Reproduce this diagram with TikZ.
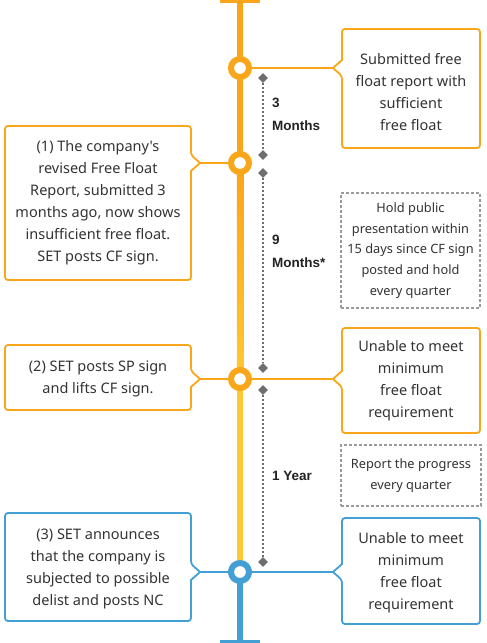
\documentclass[tikz,border=0pt]{standalone}
\usepackage{fontspec}
\newfontfamily\boxfont{Noto Sans}
\newfontfamily\lblfont{Liberation Sans}
\usetikzlibrary{shapes.geometric,shadows}
\definecolor{cOrange}{HTML}{F9A61A}
\definecolor{cYellow}{HTML}{FFC933}
\definecolor{cBlue}{HTML}{449FD5}
\definecolor{cDot}{HTML}{6D6E70}
\definecolor{cNote}{HTML}{9A9A9A}
\definecolor{cText}{HTML}{333333}
\definecolor{cLbl}{HTML}{222222}
% pointer box, pointer on the left: x1 y1 x2 y2 py colour tipname
\newcommand\PtrBoxOnLeft[7]{%
  \draw[#6, line width=1.8pt, fill=white, rounded corners=3pt]
    (#1,#5-8) -- (#1,#2) -- (#3,#2) -- (#3,#4) -- (#1,#4) -- (#1,#5+8)
    [sharp corners] -- (#1-9,#5) coordinate (#7) -- cycle;}
% pointer box, pointer on the right
\newcommand\PtrBoxOnRight[7]{%
  \draw[#6, line width=1.8pt, fill=white, rounded corners=3pt]
    (#3,#5+8) -- (#3,#4) -- (#1,#4) -- (#1,#2) -- (#3,#2) -- (#3,#5-8)
    [sharp corners] -- (#3+9,#5) coordinate (#7) -- cycle;}
\begin{document}
\begin{tikzpicture}[x=1pt,y=-1pt,
  boxtext/.style={align=center, text=cText, font=\boxfont\fontsize{14.5}{22}\selectfont, inner sep=0},
  notebox/.style={draw=cNote, dash pattern=on 3pt off 2pt, line width=1.3pt, align=center,
     text=cText, font=\boxfont\fontsize{12.8}{20.7}\selectfont, inner sep=0},
  lbl/.style={anchor=west, text=cLbl, font=\lblfont\bfseries\fontsize{13.5}{23}\selectfont, align=left, inner sep=0},
  dia/.style={diamond, fill=cDot, inner sep=0, minimum size=10pt},
  dotline/.style={cDot, line width=1.8pt, dash pattern=on 2pt off 2pt},
  conn/.style={line width=1.5pt},
  ring/.style={circle, line width=6pt, fill=white, minimum size=18pt, inner sep=0,
     drop shadow={opacity=0.18, shadow xshift=0pt, shadow yshift=-1.5pt}},
]
\useasboundingbox (0,0) rectangle (487,643);
\fill[white] (0,0) rectangle (487,643);

% main vertical line
\fill[cOrange] (236.75,0) rectangle (243.25,170);
\shade[top color=cOrange, bottom color=cYellow] (236.75,169.5) rectangle (243.25,390);
\fill[cYellow] (236.75,389.5) rectangle (243.25,572);
\fill[cBlue] (236.75,572) rectangle (243.25,643);
\fill[cOrange] (220,0) rectangle (260,2.5);
\fill[cBlue] (220,640) rectangle (260,643);

% boxes
\PtrBoxOnLeft{342}{29}{480}{148}{68}{cOrange}{t1}
\PtrBoxOnRight{5}{126}{191}{280}{163}{cOrange}{t2}
\PtrBoxOnRight{5}{345}{191}{410}{379}{cOrange}{t3}
\PtrBoxOnLeft{342}{328}{480}{433}{379}{cOrange}{t4}
\PtrBoxOnRight{5}{513}{191}{621}{572}{cBlue}{t5}
\PtrBoxOnLeft{342}{518}{480}{624}{572}{cBlue}{t6}

\node[boxtext] (b1) at (411,92) {Submitted free\\float report with\\sufficient\\free float};
\node[boxtext] (b2) at (98,202.5) {(1) The company's\\revised Free Float\\Report, submitted 3\\months ago, now shows\\insufficient free float.\\SET posts CF sign.};
\node[boxtext] (b3) at (98,379) {(2) SET posts SP sign\\and lifts CF sign.};
\node[boxtext] (b4) at (411,380.5) {Unable to meet\\minimum\\free float\\requirement};
\node[boxtext] (b5) at (98,568.5) {(3) SET announces\\that the company is\\subjected to possible\\delist and posts NC};
\node[boxtext] (b6) at (411,573) {Unable to meet\\minimum\\free float\\requirement};

\node[notebox, minimum width=139pt, minimum height=115pt] (n1) at (410.5,250.5) {Hold public\\presentation within\\15 days since CF sign\\posted and hold\\every quarter};
\node[notebox, minimum width=140pt, minimum height=61pt] (n2) at (411,475.5) {Report the progress\\every quarter};

% circles
\node[ring, draw=cOrange] (c1) at (240,68) {};
\node[ring, draw=cOrange] (c2) at (240,163) {};
\node[ring, draw=cOrange] (c3) at (240,379) {};
\node[ring, draw=cBlue] (c4) at (240,572) {};
\draw[conn, cOrange] (c1.east) -- (t1);
\draw[conn, cOrange] (c2.west) -- (t2);
\draw[conn, cOrange] (c3.west) -- (t3);
\draw[conn, cOrange] (c3.east) -- (t4);
\draw[conn, cBlue] (c4.west) -- (t5);
\draw[conn, cBlue] (c4.east) -- (t6);

% duration markers
\node[dia] (d1) at (263,78) {};
\node[dia] (d2) at (263,155) {};
\node[dia] (d3) at (263,173) {};
\node[dia] (d4) at (263,368) {};
\node[dia] (d5) at (263,390) {};
\node[dia] (d6) at (263,562) {};
\draw[dotline] (d1) -- (d2);
\draw[dotline] (d3) -- (d4);
\draw[dotline] (d5) -- (d6);

\node[lbl] (l1) at (272,114.5) {3\\Months};
\node[lbl] (l2) at (272,251) {9\\Months*};
\node[lbl] (l3) at (272,476) {1 Year};
\end{tikzpicture}
\end{document}
